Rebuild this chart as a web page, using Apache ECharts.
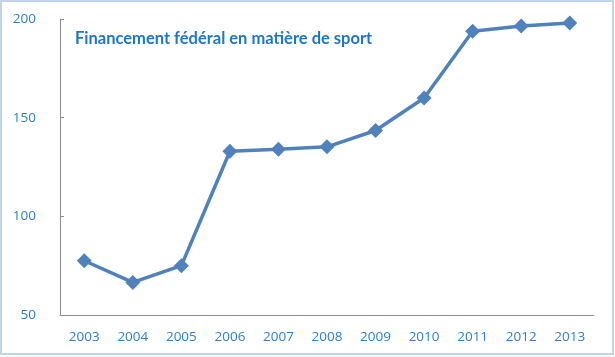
<!DOCTYPE html>
<html><head><meta charset="utf-8">
<script src="https://cdn.jsdelivr.net/npm/echarts@6/dist/echarts.min.js"></script>
<style>html,body{margin:0;padding:0;background:#fff}#c{width:615px;height:357px}</style>
</head><body><div id="c"></div>
<script>
const categories = ['2003','2004','2005','2006','2007','2008','2009','2010','2011','2012','2013'];
const values = [77.5, 66.5, 75, 133, 134, 135.2, 143.5, 160, 193.8, 196.5, 198];
const yTicks = [50, 100, 150, 200];
const titleText = 'Financement fédéral en matière de sport';

const chart = echarts.init(document.getElementById('c'), null, {renderer: 'canvas'});
chart.setOption({
  animation: false,
  backgroundColor: '#ffffff',
  title: {
    text: titleText, left: 70, top: 25,
    textStyle: {color: '#1f77c4', fontFamily: 'Lato', fontWeight: 'bold', fontSize: 16.5}
  },
  graphic: [{
    type: 'rect', shape: {x: 1, y: 1, width: 612, height: 353},
    style: {fill: 'none', stroke: '#c0d4ec', lineWidth: 2}, silent: true, z: -1
  }],
  grid: {left: 60, top: 19, right: 21, bottom: 42},
  xAxis: {
    type: 'category', data: categories, boundaryGap: true,
    axisLine: {lineStyle: {color: '#8c8c8c', width: 1}},
    axisTick: {inside: true, length: 5, lineStyle: {color: '#8c8c8c'}},
    axisLabel: {color: '#2e7fc7', fontFamily: 'Open Sans', fontSize: 13.5, margin: 15}
  },
  yAxis: {
    type: 'value', min: yTicks[0], max: yTicks[yTicks.length-1], interval: 50,
    splitLine: {show: false},
    axisLine: {show: true, lineStyle: {color: '#8c8c8c', width: 1}},
    axisTick: {show: true, inside: true, length: 4, lineStyle: {color: '#8c8c8c'}},
    axisLabel: {color: '#2e7fc7', fontFamily: 'Open Sans', fontSize: 13.5, margin: 24}
  },
  series: [{
    type: 'line', data: values,
    lineStyle: {color: '#4f81bd', width: 3.5},
    itemStyle: {color: '#4f81bd'},
    symbol: 'diamond', symbolSize: 15, showAllSymbol: true
  }]
});
</script></body></html>
